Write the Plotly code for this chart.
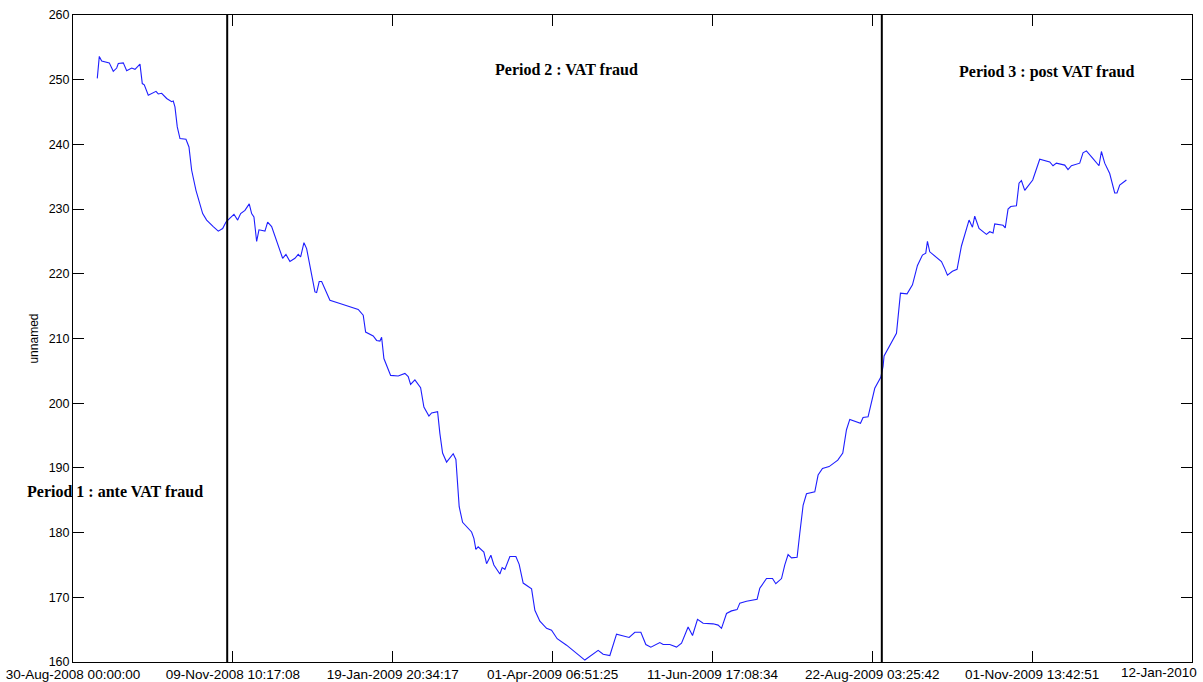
import pandas as pd
import plotly.graph_objects as go

# ---------------- data ----------------
start_date = "2008-08-30"

# days elapsed since start_date for each observation
day_offsets = [
    10.85, 11.75, 12.82, 16.21, 18.0, 19.52, 20.24, 22.47, 23.99, 26.22,
    27.7, 29.93, 30.96, 31.85, 33.64, 35.87, 37.08, 38.1, 39.62, 41.86,
    44.09, 44.8, 45.56, 46.59, 47.8, 50.48, 51.82, 53.02, 54.94, 57.94,
    59.72, 62.67, 64.91, 66.87, 68.35, 70.13, 71.92, 73.57, 74.91, 76.83,
    78.75, 79.82, 80.85, 82.06, 83.09, 85.77, 86.97, 88.76, 90.99, 93.67,
    95.15, 96.93, 99.17, 100.64, 101.71, 103.19, 104.39, 106.63, 108.1, 108.86,
    110.02, 111.1, 112.57, 114.8, 119.27, 127.44, 129.68, 130.75, 134.14, 135.66,
    137.14, 137.9, 138.92, 141.92, 145.31, 148.3, 149.78, 150.85, 152.77, 155.32,
    156.79, 159.03, 160.23, 162.91, 163.94, 165.14, 166.93, 168.72, 169.88, 171.09,
    172.56, 174.08, 178.1, 179.13, 180.02, 181.05, 183.59, 184.8, 186.72, 188.06,
    190.74, 191.77, 192.97, 195.21, 197.89, 199.36, 201.15, 204.9, 206.38, 208.61,
    211.6, 213.83, 216.34, 220.54, 228.71, 234.65, 236.89, 239.88, 242.87, 248.5,
    251.05, 253.73, 255.96, 258.19, 262.21, 263.69, 266.68, 269.67, 271.91, 274.85,
    276.82, 279.05, 281.56, 286.02, 288.26, 289.77, 292.01, 294.24, 296.74, 297.95,
    300.94, 305.68, 306.88, 309.88, 312.56, 314.03, 316.58, 318.05, 319.52, 321.04,
    323.55, 324.75, 326.23, 327.74, 331.45, 332.93, 334.89, 337.84, 341.73, 343.96,
    345.61, 347.09, 349.77, 351.87, 353.03, 355.26, 358.25, 359.73, 360.93, 361.96,
    362.41, 367.95, 369.73, 372.68, 375.1, 377.33, 379.56, 381.04, 381.79, 382.82,
    388.05, 389.52, 390.73, 392.96, 395.02, 396.98, 400.38, 401.9, 402.92, 404.84,
    408.15, 409.62, 411.1, 411.86, 415.57, 416.55, 417.8, 419.0, 421.55, 422.71,
    423.78, 425.26, 428.83, 431.96, 436.43, 437.9, 439.41, 443.13, 444.6, 446.12,
    449.83, 451.3, 452.82, 455.77, 458.45, 459.52, 461.0, 463.23, 465.46, 466.49,
    467.7, 470.69,
]

values = [
    250.2, 253.6, 252.9, 252.6, 251.3, 251.8, 252.5, 252.6, 251.4, 251.8,
    251.6, 252.4, 249.4, 249.2, 247.6, 248.0, 248.2, 247.8, 247.9, 247.1,
    246.6, 246.7, 245.8, 242.7, 240.9, 240.8, 239.6, 236.0, 232.9, 229.3,
    228.3, 227.3, 226.6, 227.0, 228.0, 228.6, 229.2, 228.3, 229.3, 229.8,
    230.8, 229.3, 228.8, 225.0, 226.8, 226.6, 228.0, 227.3, 225.2, 222.4,
    223.0, 221.9, 222.4, 223.0, 222.6, 224.8, 223.9, 219.8, 217.2, 217.1,
    218.8, 218.8, 217.7, 215.9, 215.4, 214.5, 213.6, 211.0, 210.4, 209.7,
    209.6, 210.2, 206.9, 204.3, 204.2, 204.6, 204.1, 202.9, 203.6, 202.4,
    199.4, 198.0, 198.5, 198.7, 195.3, 192.3, 190.9, 191.7, 192.2, 191.3,
    184.0, 181.6, 180.1, 179.1, 177.4, 177.8, 177.0, 175.2, 176.5, 175.0,
    173.6, 174.6, 174.3, 176.3, 176.3, 175.1, 172.2, 171.3, 168.0, 166.3,
    165.2, 164.9, 163.6, 162.6, 160.3, 161.8, 161.2, 161.0, 164.3, 163.8,
    164.6, 164.6, 162.7, 162.3, 163.0, 162.7, 162.7, 162.3, 162.9, 165.4,
    164.1, 166.6, 166.0, 165.9, 165.7, 165.2, 167.5, 167.9, 168.1, 169.1,
    169.4, 169.7, 171.4, 172.9, 172.9, 172.1, 172.9, 175.0, 176.6, 176.1,
    176.2, 179.9, 184.2, 186.0, 186.3, 188.9, 189.9, 190.2, 191.2, 192.3,
    195.9, 197.5, 197.1, 196.9, 197.8, 197.9, 202.3, 203.3, 204.0, 205.7,
    207.3, 210.8, 217.0, 216.9, 218.3, 221.3, 222.9, 223.2, 225.0, 223.4,
    221.9, 220.8, 219.8, 220.4, 220.7, 224.3, 228.3, 227.2, 228.9, 227.0,
    226.1, 226.5, 226.3, 227.7, 227.5, 227.1, 230.0, 230.4, 230.5, 234.0,
    234.4, 232.9, 234.5, 237.7, 237.3, 236.7, 237.1, 236.8, 236.1, 236.7,
    237.1, 238.7, 239.0, 237.8, 236.7, 238.9, 237.1, 235.5, 232.5, 232.5,
    233.7, 234.5,
]

# period boundaries (days since start_date)
period_break_days = [68.9, 361.4]

# x-axis ticks
tick_dates = [
    "2008-08-30 00:00:00", "2008-11-09 10:17:08", "2009-01-19 20:34:17",
    "2009-04-01 06:51:25", "2009-06-11 17:08:34", "2009-08-22 03:25:42",
    "2009-11-01 13:42:51", "2010-01-12 00:00:00",
]
tick_labels = [
    "30-Aug-2008 00:00:00", "09-Nov-2008 10:17:08", "19-Jan-2009 20:34:17",
    "01-Apr-2009 06:51:25", "11-Jun-2009 17:08:34", "22-Aug-2009 03:25:42",
    "01-Nov-2009 13:42:51", "12-Jan-2010",
]
y_ticks = [160, 170, 180, 190, 200, 210, 220, 230, 240, 250, 260]

period_labels = ["Period 1 : ante VAT fraud", "Period 2 : VAT fraud", "Period 3 : post VAT fraud"]
period_label_days = [18.8, 220.7, 435.1]
period_label_values = [186.4, 251.6, 251.2]

y_label = "unnamed"

# ---------------- figure ----------------
t0 = pd.Timestamp(start_date)
dates = [t0 + pd.to_timedelta(d, unit="D") for d in day_offsets]
break_dates = [t0 + pd.to_timedelta(d, unit="D") for d in period_break_days]
label_dates = [t0 + pd.to_timedelta(d, unit="D") for d in period_label_days]

SANS = "Liberation Sans, Arial, sans-serif"
SERIF = "Liberation Serif, Times New Roman, serif"

fig = go.Figure()
fig.add_trace(go.Scatter(
    x=dates, y=values, mode="lines",
    line=dict(color="#1e1eff", width=1.1),
    showlegend=False, hoverinfo="x+y",
))

for bd in break_dates:
    fig.add_shape(type="line", xref="x", yref="paper",
                  x0=bd, x1=bd, y0=0, y1=1,
                  line=dict(color="black", width=2))

for txt, xd, yv in zip(period_labels, label_dates, period_label_values):
    fig.add_annotation(x=xd, y=yv, xref="x", yref="y", text="<b>" + txt + "</b>",
                       showarrow=False, xanchor="center", yanchor="middle",
                       font=dict(family=SERIF, size=16, color="black"))

# y-axis label
fig.add_annotation(x=-0.0357, y=0.5, xref="paper", yref="paper", text=y_label,
                   textangle=-90, showarrow=False, xanchor="center", yanchor="middle",
                   font=dict(family=SANS, size=12, color="black"))

# last tick label shifted inside the window (as in the original)
fig.add_annotation(x=1.0063, y=0, xref="paper", yref="paper", text=tick_labels[-1],
                   showarrow=False, xanchor="right", yanchor="top", yshift=-1,
                   font=dict(family=SANS, size=13.5, color="black"))

shown_ticktext = tick_labels[:-1] + [""]

fig.update_layout(
    width=1203, height=682,
    margin=dict(l=73, r=11, t=15, b=20),
    paper_bgcolor="white", plot_bgcolor="white",
    font=dict(family=SANS, size=12, color="black"),
    xaxis=dict(
        type="date",
        range=[tick_dates[0], tick_dates[-1]],
        tickvals=tick_dates, ticktext=shown_ticktext,
        ticks="inside", ticklen=11, tickwidth=1, tickcolor="black",
        ticklabelstandoff=0,
        showline=True, linecolor="black", linewidth=1, mirror="ticks",
        showgrid=False, zeroline=False, automargin=False,
        tickfont=dict(family=SANS, size=13.5, color="black"),
    ),
    yaxis=dict(
        range=[160, 260], tickvals=y_ticks,
        ticks="inside", ticklen=11, tickwidth=1, tickcolor="black",
        showline=True, linecolor="black", linewidth=1, mirror="ticks",
        showgrid=False, zeroline=False, automargin=False,
        tickfont=dict(family=SANS, size=12.5, color="black"),
    ),
)

fig.write_html("out.html", config={"displayModeBar": False},
               post_script="document.body.style.margin='0';")
